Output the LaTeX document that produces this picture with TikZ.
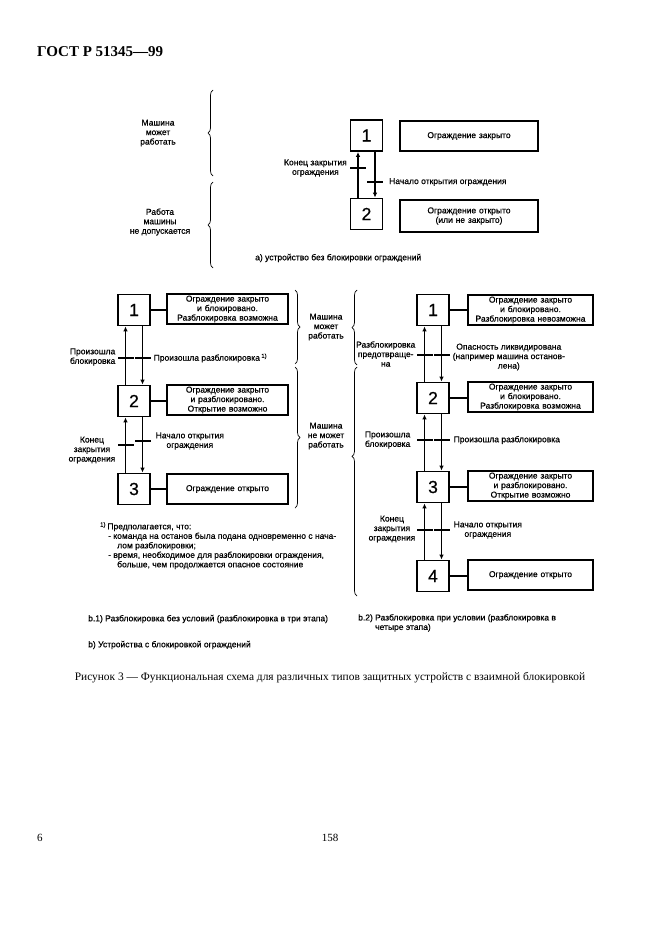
\documentclass[tikz,border=0pt]{standalone}
\usepackage{fontspec}
\setmainfont{Liberation Serif}
\newfontfamily\dsans[FakeBold=0.6]{Liberation Sans}
\usetikzlibrary{arrows.meta,decorations.pathreplacing}
\tikzset{
  numbox/.style={draw, line width=1.8pt, minimum width=32pt, minimum height=31pt, inner sep=0pt, font=\dsans\fontsize{17.5}{17.5}\selectfont},
  txbox/.style={draw, line width=1.8pt, minimum height=30pt, inner sep=1pt, align=center, font=\dsans\fontsize{8.5}{9.5}\selectfont},
  lbl/.style={inner sep=0pt, font=\dsans\fontsize{8.5}{9.5}\selectfont},
  flow/.style={line width=1.8pt, -{Latex[length=5pt,width=4.5pt]}},
  conn/.style={line width=1.8pt},
  tbar/.style={rectangle, fill=black, minimum width=16pt, minimum height=1.8pt, inner sep=0pt, outer sep=0pt},
  brc/.style={decorate, decoration={brace, amplitude=5pt}, line width=0.7pt},
  brcA/.style={decorate, decoration={brace, amplitude=5pt, aspect=0.61}, line width=0.7pt},
}
\begin{document}
\begin{tikzpicture}[x=1pt,y=-1pt]
\fill[white] (0,0) rectangle (661,936);
\useasboundingbox (0,0) rectangle (661,936);

% header and page numbers
\node[anchor=west, inner sep=0pt, font=\bfseries\fontsize{15}{15}\selectfont] (hdr) at (37,52) {ГОСТ Р 51345—99};
\node[anchor=west, inner sep=0pt, font=\fontsize{11}{11}\selectfont] (pg6) at (37,838) {6};
\node[inner sep=0pt, font=\fontsize{11}{11}\selectfont] (pg158) at (330,838) {158};

% ---------- section a ----------
\node[numbox] (a1) at (366.5,135.5) {1};
\node[numbox] (a2) at (366.5,214) {2};
\node[txbox, minimum width=138pt, text width=134pt] (ax1) at (469,136) {Ограждение закрыто};
\node[txbox, minimum width=138pt, text width=134pt, minimum height=32pt] (ax2) at (469,216) {Ограждение открыто\\(или не закрыто)};
\draw[flow] ([xshift=-8.5pt]a2.north) -- ([xshift=-8.5pt]a1.south);
\draw[flow] ([xshift=8.5pt]a1.south) -- ([xshift=8.5pt]a2.north);
\node[tbar] (at1) at (358,168) {};
\node[tbar] (at2) at (375,182) {};
\node[lbl, anchor=east, align=center] (atl1) at ([xshift=-3pt]at1.west) {Конец закрытия\\ограждения};
\node[lbl, anchor=west] (atl2) at ([xshift=6pt]at2.east) {Начало открытия ограждения};
\node[lbl, anchor=west] (acap) at (255,258) {а) устройство без блокировки ограждений};

\coordinate (ab1s) at (213,176);
\coordinate (ab1e) at (213,90);
\coordinate (ab2s) at (213,268);
\coordinate (ab2e) at (213,182);
\draw[brc] (ab1s) -- (ab1e);
\draw[brc] (ab2s) -- (ab2e);
\node[lbl, align=center] (al1) at (158,133) {Машина\\может\\работать};
\node[lbl, align=center] (al2) at (160,222) {Работа\\машины\\не допускается};

% ---------- section b.1 ----------
\node[numbox] (p1) at (134,310) {1};
\node[numbox] (p2) at (134,401) {2};
\node[numbox] (p3) at (134,489) {3};
\node[txbox, minimum width=121pt, text width=117pt] (px1) at (227.5,309) {Ограждение закрыто\\и блокировано.\\Разблокировка возможна};
\node[txbox, minimum width=121pt, text width=117pt] (px2) at (227.5,400) {Ограждение закрыто\\и разблокировано.\\Открытие возможно};
\node[txbox, minimum width=121pt, text width=117pt] (px3) at (227.5,489) {Ограждение открыто};
\draw[conn] (p1.east) -- (p1.east -| px1.west);
\draw[conn] (p2.east) -- (p2.east -| px2.west);
\draw[conn] (p3.east) -- (p3.east -| px3.west);
\draw[flow] ([xshift=-8.5pt]p2.north) -- ([xshift=-8.5pt]p1.south);
\draw[flow] ([xshift=8.5pt]p1.south) -- ([xshift=8.5pt]p2.north);
\draw[flow] ([xshift=-8.5pt]p3.north) -- ([xshift=-8.5pt]p2.south);
\draw[flow] ([xshift=8.5pt]p2.south) -- ([xshift=8.5pt]p3.north);
\node[tbar] (pt1) at (125.5,358) {};
\node[tbar] (pt2) at (142.5,358) {};
\node[tbar] (pt3) at (125.5,445) {};
\node[tbar] (pt4) at (142.5,441) {};
\node[lbl, anchor=east, align=center] (ptl1) at ([xshift=-2pt,yshift=1pt]pt1.west) {Произошла\\блокировка};
\node[lbl, anchor=west] (ptl2) at ([xshift=3pt]pt2.east) {Произошла разблокировка\,\textsuperscript{1)}};
\node[lbl, anchor=east, align=center] (ptl3) at ([xshift=-2pt,yshift=-5pt]pt3.west) {Конец\\закрытия\\ограждения};
\node[lbl, anchor=west, align=center] (ptl4) at ([xshift=5pt]pt4.east) {Начало открытия\\ограждения};

\coordinate (pb1s) at (295,290);
\coordinate (pb1e) at (295,364);
\coordinate (pb2s) at (295,367);
\coordinate (pb2e) at (295,508);
\draw[brc] (pb1s) -- (pb1e);
\draw[brc] (pb2s) -- (pb2e);
\node[lbl, align=center] (pl1) at (326,327) {Машина\\может\\работать};
\node[lbl, align=center] (pl2) at (326,436) {Машина\\не может\\работать};

\node[lbl, anchor=north west, align=left] (fn) at (100,522) {\textsuperscript{1)}\,Предполагается, что:\\
\hspace*{8pt}- команда на останов была подана одновременно с нача-\\
\hspace*{17pt}лом разблокировки;\\
\hspace*{8pt}- время, необходимое для разблокировки ограждения,\\
\hspace*{17pt}больше, чем продолжается опасное состояние};

% ---------- section b.2 ----------
\node[numbox] (q1) at (433,310) {1};
\node[numbox] (q2) at (433,398) {2};
\node[numbox] (q3) at (433,487) {3};
\node[numbox] (q4) at (433,576) {4};
\node[txbox, minimum width=125pt, text width=121pt] (qx1) at (530.5,310) {Ограждение закрыто\\и блокировано.\\Разблокировка невозможна};
\node[txbox, minimum width=125pt, text width=121pt] (qx2) at (530.5,397) {Ограждение закрыто\\и блокировано.\\Разблокировка возможна};
\node[txbox, minimum width=125pt, text width=121pt] (qx3) at (530.5,486) {Ограждение закрыто\\и разблокировано.\\Открытие возможно};
\node[txbox, minimum width=125pt, text width=121pt] (qx4) at (530.5,575) {Ограждение открыто};
\draw[conn] (q1.east) -- (q1.east -| qx1.west);
\draw[conn] (q2.east) -- (q2.east -| qx2.west);
\draw[conn] (q3.east) -- (q3.east -| qx3.west);
\draw[conn] (q4.east) -- (q4.east -| qx4.west);
\draw[flow] ([xshift=-8.5pt]q2.north) -- ([xshift=-8.5pt]q1.south);
\draw[flow] ([xshift=8.5pt]q1.south) -- ([xshift=8.5pt]q2.north);
\draw[flow] ([xshift=-8.5pt]q3.north) -- ([xshift=-8.5pt]q2.south);
\draw[flow] ([xshift=8.5pt]q2.south) -- ([xshift=8.5pt]q3.north);
\draw[flow] ([xshift=-8.5pt]q4.north) -- ([xshift=-8.5pt]q3.south);
\draw[flow] ([xshift=8.5pt]q3.south) -- ([xshift=8.5pt]q4.north);
\node[tbar] (qt1) at (424.5,355) {};
\node[tbar] (qt2) at (441.5,355) {};
\node[tbar] (qt3) at (424.5,440) {};
\node[tbar] (qt4) at (441.5,440) {};
\node[tbar] (qt5) at (424.5,530) {};
\node[tbar] (qt6) at (441.5,530) {};
\node[lbl, anchor=east, align=center] (qtl1) at ([xshift=-1pt,yshift=1pt]qt1.west) {Разблокировка\\предотвраще-\\на};
\node[lbl, anchor=west, align=center] (qtl2) at ([xshift=3pt,yshift=-2pt]qt2.east) {Опасность ликвидирована\\(например машина останов-\\лена)};
\node[lbl, anchor=east, align=center] (qtl3) at ([xshift=-6pt]qt3.west) {Произошла\\блокировка};
\node[lbl, anchor=west] (qtl4) at ([xshift=4pt]qt4.east) {Произошла разблокировка};
\node[lbl, anchor=east, align=center] (qtl5) at ([xshift=-1pt,yshift=1pt]qt5.west) {Конец\\закрытия\\ограждения};
\node[lbl, anchor=west, align=center] (qtl6) at ([xshift=4pt]qt6.east) {Начало открытия\\ограждения};

\coordinate (qb1s) at (357,365);
\coordinate (qb1e) at (357,290);
\coordinate (qb2s) at (357,596);
\coordinate (qb2e) at (357,367);
\draw[brc] (qb1s) -- (qb1e);
\draw[brcA] (qb2s) -- (qb2e);

% ---------- captions ----------
\node[lbl, anchor=west] (c1) at (88,619) {b.1) Разблокировка без условий (разблокировка в три этапа)};
\node[lbl, anchor=north west, align=left] (c2) at (358,614) {b.2) Разблокировка при условии (разблокировка в\\\hphantom{b.2) }четыре этапа)};
\node[lbl, anchor=west] (c3) at (88,645) {b) Устройства с блокировкой ограждений};
\node[inner sep=0pt, font=\fontsize{11.4}{11.4}\selectfont] (fig) at (330,678) {Рисунок 3 — Функциональная схема для различных типов защитных устройств с взаимной блокировкой};
\end{tikzpicture}
\end{document}
